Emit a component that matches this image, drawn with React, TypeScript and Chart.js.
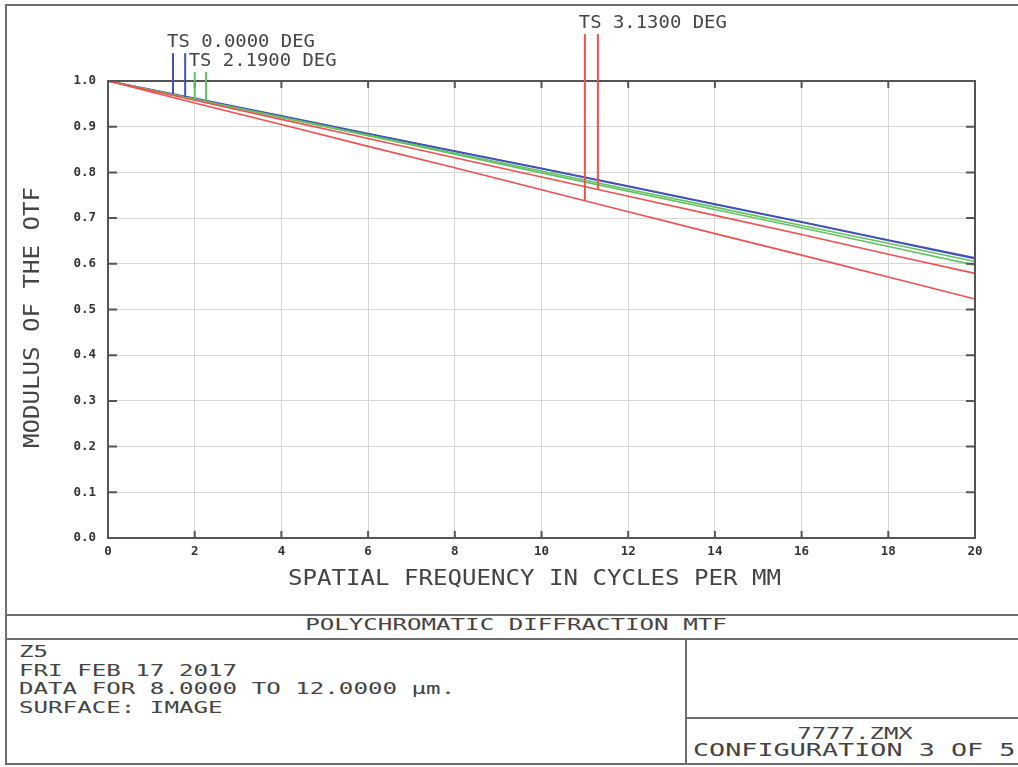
import React, { useEffect, useRef } from "react";
import { Chart, registerables } from "chart.js";

Chart.register(...registerables);

// ---------------- data ----------------
const frequencies = [0, 2, 4, 6, 8, 10, 12, 14, 16, 18, 20];
const field1T = [1.0, 0.962, 0.924, 0.885, 0.847, 0.809, 0.77, 0.731, 0.692, 0.652, 0.613];
const field1S = [1.0, 0.961, 0.923, 0.884, 0.846, 0.808, 0.769, 0.73, 0.691, 0.651, 0.611];
const field2T = [1.0, 0.96, 0.921, 0.882, 0.842, 0.803, 0.763, 0.724, 0.684, 0.645, 0.605];
const field2S = [1.0, 0.96, 0.92, 0.88, 0.84, 0.799, 0.759, 0.719, 0.679, 0.638, 0.597];
const field3T = [1.0, 0.952, 0.905, 0.857, 0.81, 0.762, 0.714, 0.666, 0.619, 0.571, 0.523];
const field3S = [1.0, 0.958, 0.916, 0.874, 0.832, 0.79, 0.748, 0.706, 0.664, 0.621, 0.579];

const fieldLabels = ["TS 0.0000 DEG", "TS 2.1900 DEG", "TS 3.1300 DEG"];
const fieldColors = ["#4352b8", "#62c262", "#ef5050"];
const markerT = [1.5, 2.0, 11.0];
const markerS = [1.78, 2.26, 11.3];
const labelLevels = [1.074, 1.033, 1.116];

const xTickValues = [0, 2, 4, 6, 8, 10, 12, 14, 16, 18, 20];
const yTickValues = [0, 0.1, 0.2, 0.3, 0.4, 0.5, 0.6, 0.7, 0.8, 0.9, 1.0];

const xTitle = "SPATIAL FREQUENCY IN CYCLES PER MM";
const yTitle = "MODULUS OF THE OTF";
const boxTitle = "POLYCHROMATIC DIFFRACTION MTF";
const infoLines = ["Z5", "FRI FEB 17 2017", "DATA FOR 8.0000 TO 12.0000 \u03bcm.", "SURFACE: IMAGE"];
const fileName = "7777.ZMX";
const configLine = "CONFIGURATION 3 OF 5";

const fields = [
  { T: field1T, S: field1S },
  { T: field2T, S: field2S },
  { T: field3T, S: field3S },
];

const MONO = '"DejaVu Sans Mono", "Liberation Mono", monospace';
const TEXT = "#444444";
const FRAME = "#555555";
const BORDER = "#6e6e6e";

function interp(series: number[], xv: number): number {
  for (let i = 0; i < frequencies.length - 1; i++) {
    const x0 = frequencies[i];
    const x1 = frequencies[i + 1];
    if (xv >= x0 && xv <= x1) {
      const t = (xv - x0) / (x1 - x0);
      return series[i] + (series[i + 1] - series[i]) * t;
    }
  }
  return series[series.length - 1];
}

const decorPlugin = {
  id: "zemaxDecor",
  afterDatasetsDraw(chart: any) {
    const { ctx, chartArea: a, scales } = chart;
    const x = scales.x;
    const y = scales.y;
    ctx.save();

    // frame
    ctx.strokeStyle = FRAME;
    ctx.lineWidth = 2;
    ctx.strokeRect(a.left, a.top, a.right - a.left, a.bottom - a.top);

    // inward ticks
    ctx.beginPath();
    xTickValues.forEach((v) => {
      const px = x.getPixelForValue(v);
      ctx.moveTo(px, a.bottom);
      ctx.lineTo(px, a.bottom - 7);
      ctx.moveTo(px, a.top);
      ctx.lineTo(px, a.top + 7);
    });
    yTickValues.forEach((v) => {
      const py = y.getPixelForValue(v);
      ctx.moveTo(a.left, py);
      ctx.lineTo(a.left + 9, py);
      ctx.moveTo(a.right, py);
      ctx.lineTo(a.right - 9, py);
    });
    ctx.stroke();

    // field markers and labels
    fields.forEach((f, i) => {
      const basePx = y.getPixelForValue(labelLevels[i]);
      const topPx = basePx + 6;
      const pairs: [number, number[]][] = [
        [markerT[i], f.T],
        [markerS[i], f.S],
      ];
      ctx.strokeStyle = fieldColors[i];
      ctx.lineWidth = 2;
      pairs.forEach(([mx, series]) => {
        const px = x.getPixelForValue(mx);
        const py = y.getPixelForValue(interp(series, mx));
        ctx.beginPath();
        ctx.moveTo(px, topPx);
        ctx.lineTo(px, py);
        ctx.stroke();
      });
      ctx.save();
      ctx.font = `18px ${MONO}`;
      ctx.fillStyle = TEXT;
      ctx.textAlign = "left";
      ctx.textBaseline = "alphabetic";
      ctx.translate(x.getPixelForValue(markerT[i]) - 6, basePx);
      ctx.scale(1.05, 1);
      ctx.fillText(fieldLabels[i], 0, 0);
      ctx.restore();
    });

    // axis titles
    ctx.fillStyle = TEXT;
    ctx.font = `21px ${MONO}`;
    ctx.textAlign = "center";
    ctx.textBaseline = "alphabetic";
    ctx.save();
    ctx.translate((a.left + a.right) / 2 - 7, a.bottom + 47);
    ctx.scale(1.147, 1);
    ctx.fillText(xTitle, 0, 0);
    ctx.restore();

    ctx.save();
    ctx.translate(39, (a.top + a.bottom) / 2 + 8);
    ctx.rotate(-Math.PI / 2);
    ctx.scale(1.147, 1);
    ctx.fillText(yTitle, 0, 0);
    ctx.restore();

    ctx.restore();
  },
};

function WideText(props: {
  text: string;
  x: number;
  capTop: number;
  size: number;
  sx: number;
  center?: boolean;
}) {
  const { text, x, capTop, size, sx, center } = props;
  const top = capTop - 0.117 * size;
  return (
    <div
      style={{
        position: "absolute",
        left: x,
        top,
        fontFamily: MONO,
        fontSize: size,
        lineHeight: `${size}px`,
        color: TEXT,
        whiteSpace: "pre",
        transformOrigin: center ? "center top" : "left top",
        transform: center ? `translateX(-50%) scaleX(${sx})` : `scaleX(${sx})`,
      }}
    >
      {text}
    </div>
  );
}

function Line(props: { l: number; t: number; w: number; h: number }) {
  return (
    <div
      style={{
        position: "absolute",
        left: props.l,
        top: props.t,
        width: props.w,
        height: props.h,
        background: BORDER,
      }}
    />
  );
}

export default function App() {
  const canvasRef = useRef<HTMLCanvasElement | null>(null);

  useEffect(() => {
    const canvas = canvasRef.current;
    if (!canvas) return;
    const mk = (series: number[]) => frequencies.map((f, i) => ({ x: f, y: series[i] }));
    const ds = (label: string, series: number[], color: string) => ({
      label,
      data: mk(series),
      borderColor: color,
      backgroundColor: color,
      borderWidth: 1.6,
      pointRadius: 0,
      tension: 0,
      fill: false,
    });
    const tickFont = { family: MONO, size: 12.5, weight: "bold" as const };
    const chart = new Chart(canvas, {
      type: "line",
      data: {
        datasets: [
          ds("3.13 T", field3T, fieldColors[2]),
          ds("3.13 S", field3S, fieldColors[2]),
          ds("2.19 S", field2S, fieldColors[1]),
          ds("2.19 T", field2T, fieldColors[1]),
          ds("0.00 S", field1S, fieldColors[0]),
          ds("0.00 T", field1T, fieldColors[0]),
        ],
      },
      options: {
        animation: false,
        responsive: false,
        devicePixelRatio: 1,
        layout: { padding: { left: 0, top: 81, right: 43, bottom: 0 } },
        plugins: {
          legend: { display: false },
          tooltip: { enabled: false },
          title: { display: false },
        },
        scales: {
          x: {
            type: "linear",
            min: 0,
            max: 20,
            afterBuildTicks: (s: any) => {
              s.ticks = xTickValues.map((v) => ({ value: v }));
            },
            afterFit: (s: any) => {
              s.height = 74;
            },
            ticks: {
              color: "#333",
              font: tickFont,
              padding: 6,
              maxRotation: 0,
              autoSkip: false,
              callback: (v: any) => String(v),
            },
            grid: { color: "#d6d6d6", lineWidth: 1, drawTicks: false },
            border: { display: false },
          },
          y: {
            type: "linear",
            min: 0,
            max: 1,
            afterBuildTicks: (s: any) => {
              s.ticks = yTickValues.map((v) => ({ value: v }));
            },
            afterFit: (s: any) => {
              s.width = 108;
            },
            ticks: {
              color: "#333",
              font: tickFont,
              padding: 12,
              autoSkip: false,
              callback: (v: any) => Number(v).toFixed(1),
            },
            grid: { color: "#d6d6d6", lineWidth: 1, drawTicks: false },
            border: { display: false },
          },
        },
      },
      plugins: [decorPlugin],
    });
    return () => chart.destroy();
  }, []);

  return (
    <div
      style={{
        position: "absolute",
        left: 0,
        top: 0,
        width: 1018,
        height: 767,
        background: "#ffffff",
        overflow: "hidden",
      }}
    >
      {/* outer frame and title block lines */}
      <Line l={5} t={4} w={1013} h={2} />
      <Line l={5} t={4} w={2} h={761} />
      <Line l={5} t={763} w={1013} h={2} />
      <Line l={5} t={614} w={1013} h={2} />
      <Line l={5} t={638} w={1013} h={2} />
      <Line l={685} t={638} w={2} h={126} />
      <Line l={685} t={717} w={333} h={2} />

      <canvas
        ref={canvasRef}
        width={1018}
        height={612}
        style={{ position: "absolute", left: 0, top: 0, width: 1018, height: 612 }}
      />

      <WideText text={boxTitle} x={516} capTop={620} size={15} sx={1.61} center />
      {infoLines.map((t, i) => (
        <WideText key={i} text={t} x={19} capTop={647 + i * 18.5} size={15} sx={1.61} />
      ))}
      <WideText text={fileName} x={855} capTop={728} size={16} sx={1.5} center />
      <WideText text={configLine} x={693} capTop={744} size={17.5} sx={1.53} />
    </div>
  );
}
